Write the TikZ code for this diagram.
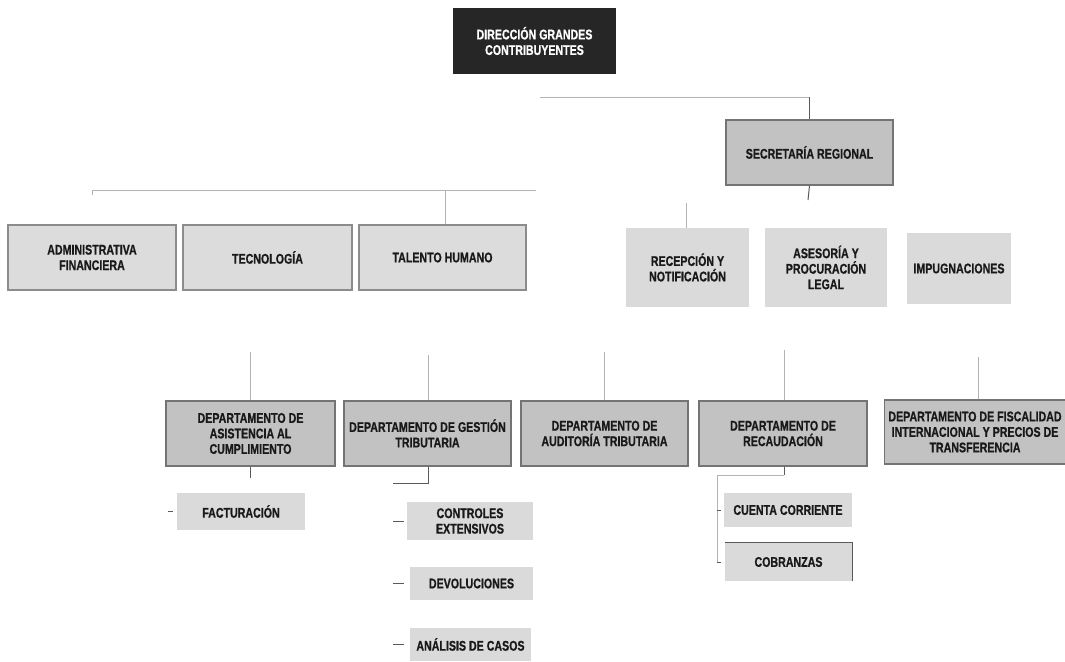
\documentclass[tikz,border=0pt]{standalone}
\usepackage{fontspec}
\newfontfamily\orgfont{Liberation Sans}[FakeStretch=0.76, BoldFeatures={FakeBold=0.8}]
\definecolor{darkbox}{HTML}{262626}
\definecolor{midfill}{HTML}{C2C2C2}
\definecolor{midline}{HTML}{747474}
\definecolor{lightfill}{HTML}{DCDCDC}
\definecolor{lightline}{HTML}{8C8C8C}
\definecolor{softfill}{HTML}{DADADA}
\definecolor{faint}{HTML}{B4B4B4}
\definecolor{darkline}{HTML}{5A5A5A}
\begin{document}
\begin{tikzpicture}[x=1pt,y=-1pt,
  every node/.style={font=\orgfont\bfseries\fontsize{14}{15.5}\selectfont, align=center, inner sep=0pt, text=black!90},
  topbox/.style={fill=darkbox, text=white, minimum width=163pt, minimum height=66pt},
  midbox/.style={fill=midfill, draw=midline, line width=1.3pt},
  lightbox/.style={fill=lightfill, draw=lightline, line width=1.1pt},
  softbox/.style={fill=softfill},
  conn/.style={draw=faint, line width=0.8pt},
  strongconn/.style={draw=darkline, line width=1pt},
]
\useasboundingbox (0,0) rectangle (1065,661);
\fill[white] (0,0) rectangle (1065,661);

% level 1
\node[topbox] (dir) at (534.5,41) {DIRECCIÓN GRANDES\\CONTRIBUYENTES};
\node[midbox, minimum width=167pt, minimum height=65pt] (sec) at (809.5,152.5) {SECRETARÍA REGIONAL};

% level 2 left
\node[lightbox, minimum width=168pt, minimum height=65pt] (adm) at (92,257.5) {ADMINISTRATIVA\\FINANCIERA};
\node[lightbox, minimum width=169pt, minimum height=65pt] (tec) at (267.5,257.5) {TECNOLOGÍA};
\node[lightbox, minimum width=167pt, minimum height=65pt] (tal) at (442.5,257.5) {TALENTO HUMANO};

% level 2 right
\node[softbox, minimum width=123pt, minimum height=79pt] (rec) at (687.5,267.5) {RECEPCIÓN Y\\NOTIFICACIÓN};
\node[softbox, minimum width=122pt, minimum height=79pt] (ase) at (826,267.5) {ASESORÍA Y\\PROCURACIÓN\\LEGAL};
\node[softbox, minimum width=104pt, minimum height=71pt] (imp) at (959,268.5) {IMPUGNACIONES};

% level 3
\node[midbox, minimum width=169pt, minimum height=65pt] (asi) at (250.5,433.5) {DEPARTAMENTO DE\\ASISTENCIA AL\\CUMPLIMIENTO};
\node[midbox, minimum width=167pt, minimum height=65pt] (ges) at (427.5,433.5) {DEPARTAMENTO DE GESTIÓN\\TRIBUTARIA};
\node[midbox, minimum width=167pt, minimum height=65pt] (aud) at (604.5,433.5) {DEPARTAMENTO DE\\AUDITORÍA TRIBUTARIA};
\node[midbox, minimum width=168pt, minimum height=65pt] (rcd) at (783,433.5) {DEPARTAMENTO DE\\RECAUDACIÓN};
\node[midbox, minimum width=181pt, minimum height=64pt] (fis) at (975,432) {DEPARTAMENTO DE FISCALIDAD\\INTERNACIONAL Y PRECIOS DE\\TRANSFERENCIA};

% level 4
\node[softbox, minimum width=128pt, minimum height=37pt] (fac) at (241,511.5) {FACTURACIÓN};
\node[softbox, minimum width=126pt, minimum height=38pt] (con) at (470,521) {CONTROLES\\EXTENSIVOS};
\node[softbox, minimum width=123pt, minimum height=33pt] (dev) at (471.5,583.5) {DEVOLUCIONES};
\node[softbox, minimum width=121pt, minimum height=33pt] (ana) at (470.5,644.5) {ANÁLISIS DE CASOS};
\node[softbox, minimum width=128pt, minimum height=34pt] (cue) at (788,510) {CUENTA CORRIENTE};
\node[softbox, minimum width=127pt, minimum height=38pt] (cob) at (788.5,562) {COBRANZAS};
\draw[darkline, line width=0.9pt] (cob.north west) -- (cob.north east) -- (cob.south east);

% coordinates for free ends
\coordinate (hA) at (540,97);
\coordinate (secB) at (808,200);
\coordinate (hL) at (92,190);
\coordinate (hR) at (536,190);
\coordinate (talT) at (445,190);
\coordinate (recT) at (686,203);
\coordinate (asiT) at (250,352);
\coordinate (gesT) at (428,355);
\coordinate (audT) at (604,352);
\coordinate (rcdT) at (784,350);
\coordinate (fisT) at (978,357);
\coordinate (asiB) at (250,478);
\coordinate (gesB) at (393,483);
\coordinate (rcdB) at (784,475);
\coordinate (rcdL) at (717,475);

% connectors
\draw[conn] (hA) -- (hA -| sec.north);
\draw[strongconn] (hA -| sec.north) -- (sec.north);
\draw[strongconn] (sec.south) -- (secB);
\draw[conn] (hL) -- (hR);
\draw[conn] (hL) -- ++(0,5);
\draw[conn] (talT) -- (tal.north -| talT);
\draw[conn] (recT) -- (rec.north -| recT);
\draw[conn] (asiT) -- (asi.north -| asiT);
\draw[conn] (gesT) -- (ges.north -| gesT);
\draw[conn] (audT) -- (aud.north -| audT);
\draw[conn] (rcdT) -- (rcd.north -| rcdT);
\draw[conn] (fisT) -- (fis.north -| fisT);
\draw[strongconn] (asi.south -| asiB) -- (asiB);
\draw[strongconn] (ges.south -| gesT) |- (gesB);
\draw[strongconn] (rcd.south -| rcdB) -- (rcdB);
\draw[conn] (rcdB) -- (rcdL) -- (rcdL |- cob.west);

% short dashes before sub-items
\draw[strongconn] ([xshift=-9pt]fac.west) -- ++(5,0);
\draw[strongconn] ([xshift=-14pt]con.west) -- ++(11,0);
\draw[strongconn] ([xshift=-17pt]dev.west) -- ++(11,0);
\draw[strongconn] ([xshift=-17pt]ana.west) -- ++(11,0);
\draw[strongconn] ([xshift=-7pt]cue.west) -- ++(4,0);
\draw[strongconn] ([xshift=-8pt]cob.west) -- ++(4,0);
\end{tikzpicture}
\end{document}
